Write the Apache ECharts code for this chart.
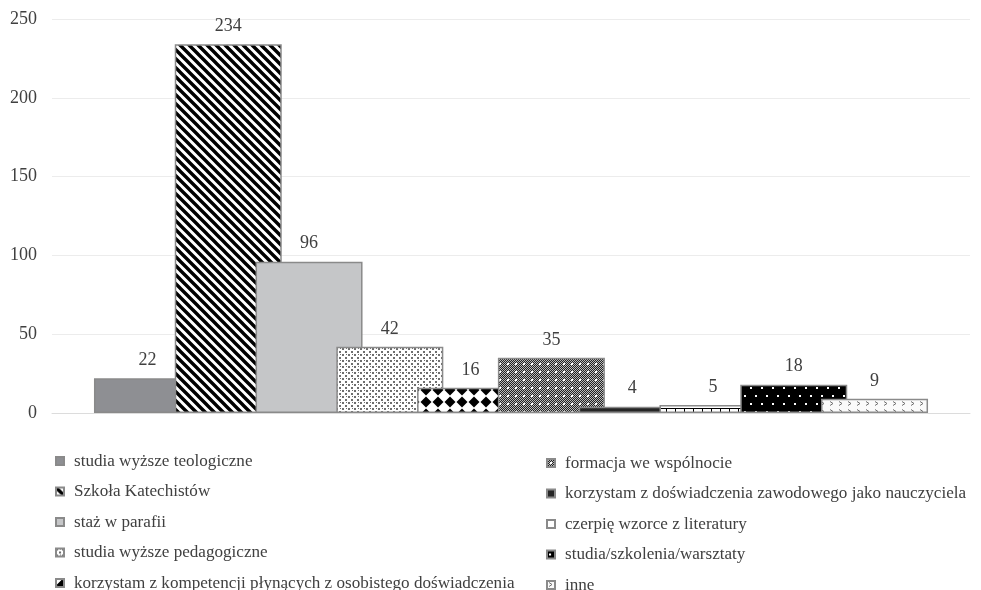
<!DOCTYPE html>
<html>
<head>
<meta charset="utf-8">
<script src="https://cdn.jsdelivr.net/npm/echarts@6/dist/echarts.min.js"></script>
<style>
  html, body { margin: 0; padding: 0; background: #fff; }
  #chart { width: 981px; height: 590px; }
</style>
</head>
<body>
<div id="chart"></div>
<script>
// dane z wykresu
const names = [
  'studia wyższe teologiczne',
  'Szkoła Katechistów',
  'staż w parafii',
  'studia wyższe pedagogiczne',
  'korzystam z kompetencji płynących z osobistego doświadczenia',
  'formacja we wspólnocie',
  'korzystam z doświadczenia zawodowego jako nauczyciela',
  'czerpię wzorce z literatury',
  'studia/szkolenia/warsztaty',
  'inne'
]
const values = [22, 234, 96, 42, 16, 35, 4, 5, 18, 9]
const patternTypes = ['solidDark', 'stripes', 'solidLight', 'confetti', 'diamonds', 'darkDots', 'solidBlack', 'ticks', 'blackDots', 'chevrons']

// wzory wypełnienia słupków (jak w Excelu)
function makePattern(type) {
  let c = document.createElement('canvas')
  let ctx
  if (type === 'stripes') {
    c.width = 9; c.height = 9
    ctx = c.getContext('2d')
    ctx.fillStyle = '#fff'; ctx.fillRect(0, 0, 9, 9)
    ctx.strokeStyle = '#000'; ctx.lineWidth = 3.4
    ctx.beginPath()
    ctx.moveTo(-9, -9); ctx.lineTo(18, 18)
    ctx.moveTo(-9, 0); ctx.lineTo(9, 18)
    ctx.moveTo(0, -9); ctx.lineTo(18, 9)
    ctx.stroke()
  } else if (type === 'confetti') {
    c.width = 6; c.height = 6
    ctx = c.getContext('2d')
    ctx.fillStyle = '#fff'; ctx.fillRect(0, 0, 6, 6)
    ctx.fillStyle = '#6e6e6e'
    ctx.fillRect(0, 0, 2, 2)
    ctx.fillRect(3, 3, 2, 2)
    ctx.fillRect(4, 0, 1, 1)
  } else if (type === 'diamonds') {
    c.width = 12; c.height = 12
    ctx = c.getContext('2d')
    ctx.fillStyle = '#fff'; ctx.fillRect(0, 0, 12, 12)
    ctx.fillStyle = '#000'
    ctx.beginPath()
    ctx.moveTo(6, 0.5); ctx.lineTo(11.5, 6); ctx.lineTo(6, 11.5); ctx.lineTo(0.5, 6)
    ctx.closePath(); ctx.fill()
  } else if (type === 'darkDots') {
    c.width = 8; c.height = 8
    ctx = c.getContext('2d')
    ctx.fillStyle = '#222'; ctx.fillRect(0, 0, 8, 8)
    ctx.fillStyle = '#bbb'
    for (let y = 0; y < 8; y++) {
      for (let x = (y % 2); x < 8; x += 2) ctx.fillRect(x, y, 1, 1)
    }
    ctx.fillStyle = '#fff'
    ctx.fillRect(3, 3, 2, 2)
  } else if (type === 'ticks') {
    c.width = 9; c.height = 8
    ctx = c.getContext('2d')
    ctx.fillStyle = '#fff'; ctx.fillRect(0, 0, 9, 8)
    ctx.fillStyle = '#000'
    ctx.fillRect(0, 0, 9, 1)
    ctx.fillRect(0, 0, 1, 5)
  } else if (type === 'blackDots') {
    c.width = 11; c.height = 16
    ctx = c.getContext('2d')
    ctx.fillStyle = '#000'; ctx.fillRect(0, 0, 11, 16)
    ctx.fillStyle = '#fff'
    ctx.fillRect(2, 3, 2, 2)
    ctx.fillRect(7, 11, 2, 2)
  } else if (type === 'chevrons') {
    c.width = 9; c.height = 8
    ctx = c.getContext('2d')
    ctx.fillStyle = '#fafafa'; ctx.fillRect(0, 0, 9, 8)
    ctx.strokeStyle = '#707070'; ctx.lineWidth = 1
    ctx.beginPath()
    ctx.moveTo(2, 1.5); ctx.lineTo(5, 3.5); ctx.lineTo(2, 5.5)
    ctx.stroke()
  }
  return { image: c, repeat: 'repeat' }
}

function colorFor(type) {
  if (type === 'solidDark') return '#8e8f93'
  if (type === 'solidLight') return '#c5c6c8'
  if (type === 'solidBlack') return '#262626'
  return makePattern(type)
}

const font = 'Liberation Serif, Times New Roman, serif'

let chart = echarts.init(document.getElementById('chart'))

let series = names.map((n, i) => ({
  name: n,
  type: 'bar',
  data: [values[i]],
  barWidth: 107,
  barGap: '-24.5%',
  itemStyle: {
    color: colorFor(patternTypes[i]),
    borderColor: '#8a8a8a',
    borderWidth: 1.5
  },
  label: {
    show: true,
    position: 'top',
    distance: 9,
    color: '#404040',
    fontFamily: font,
    fontSize: 18
  }
}))

let legendCommon = {
  orient: 'vertical',
  icon: 'rect',
  itemWidth: 8,
  itemHeight: 8,
  itemGap: 12.5,
  padding: 0,
  height: 200,
  selectedMode: false,
  textStyle: {
    color: '#404040',
    fontFamily: font,
    fontSize: 17.1,
    lineHeight: 18,
    padding: [0, 0, 0, 5]
  }
}

chart.setOption({
  backgroundColor: '#fff',
  animation: false,
  grid: { left: 52, right: 11, top: 19, bottom: 177 },
  legend: [
    Object.assign({}, legendCommon, { left: 55, top: 452, data: names.slice(0, 5) }),
    Object.assign({}, legendCommon, { left: 546, top: 454, data: names.slice(5) })
  ],
  xAxis: {
    type: 'category',
    data: [''],
    axisTick: { show: false },
    axisLabel: { show: false },
    axisLine: { lineStyle: { color: '#dcdcdc', width: 1 } }
  },
  yAxis: {
    type: 'value',
    min: 0,
    max: 250,
    interval: 50,
    axisLine: { show: false },
    axisTick: { show: false },
    axisLabel: { color: '#404040', fontFamily: font, fontSize: 18, margin: 15 },
    splitLine: { lineStyle: { color: '#ececec', width: 1 } }
  },
  series: series
})
</script>
</body>
</html>
